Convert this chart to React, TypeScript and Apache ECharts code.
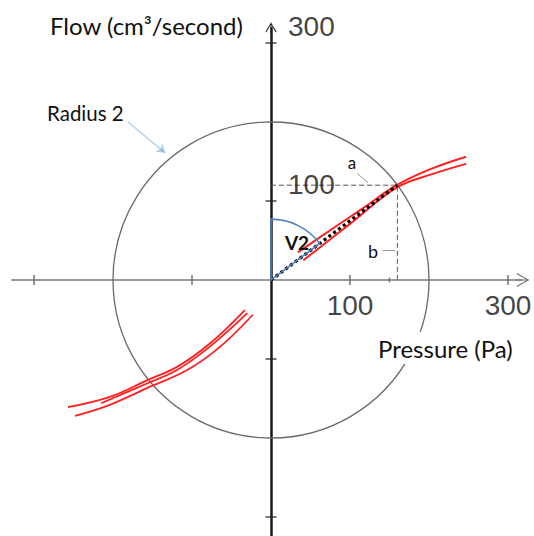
import React, { useEffect, useRef } from "react";
import * as echarts from "echarts";

// ---- data (chart units) ----
const xTickValues = [-300, -100, 100, 300];
const yTickValues = [-300, -100, 100, 300];
const xLabelValues = [100, 300];
const yLabelValues = [100, 300];
const minorXTick = [150];
const circleRadius = 200;
const vectorPoint = [160, 120];
const angleMarkerRadius = 77;
const upperCurveA = [[34, 35], [75, 63], [118, 92], [159, 120], [201, 140], [247, 156]];
const upperCurveB = [[41, 25], [100, 71], [159, 117], [204, 134], [247, 147]];
const lowerCurveA = [[-257, -161], [-204, -148], [-157, -127], [-119, -110], [-77, -80], [-33, -38]];
const lowerCurveA2 = [[-215, -156], [-157, -131], [-119, -114], [-77, -84], [-30, -42]];
const lowerCurveB = [[-248, -172], [-204, -158], [-153, -135], [-106, -114], [-65, -85], [-23, -44]];
const radiusArrow = [[-181, 200], [-134, 161]];
const leaderA = [[109, 135], [123, 123]];
const leaderB = [[141, 38], [157, 38]];

const X_MIN = -328, X_MAX = 318, Y_MIN = -324, Y_MAX = 319;

const ARROW = "path://M10,0 L20,17 L18.6,18.2 L10,3.4 L1.4,18.2 L0,17 Z M9.3,0 L10.7,0 L10.7,20 L9.3,20 Z";
const TXT = "Lato";
const NUM = "Liberation Sans";
const RED = "#ff2020";

export default function App() {
  const ref = useRef<HTMLDivElement>(null);
  useEffect(() => {
    if (!ref.current) return;
    const chart = echarts.init(ref.current, null, { renderer: "svg" });
    const lineSeries = (data: number[][], color: string, width: number, type: any = "solid", z = 3) => ({
      type: "line",
      data,
      smooth: 0.4,
      showSymbol: false,
      symbol: "none",
      silent: true,
      z,
      lineStyle: { color, width, type },
    });
    chart.setOption({
      animation: false,
      backgroundColor: "#ffffff",
      grid: { left: 11.88, top: 27.99, width: 510.34, height: 507.97, containLabel: false, outerBoundsMode: "none" },
      xAxis: {
        type: "value",
        min: X_MIN,
        max: X_MAX,
        axisLine: {
          onZero: true,
          lineStyle: { color: "#7a7a7a", width: 1.5 },
          symbol: ["none", ARROW],
          symbolSize: [15, 14],
        },
        axisTick: { show: false },
        splitLine: { show: false },
        axisLabel: { show: false },
      },
      yAxis: {
        type: "value",
        min: Y_MIN,
        max: Y_MAX,
        axisLine: {
          onZero: true,
          lineStyle: { color: "#1a1a1a", width: 2.5 },
          symbol: ["none", ARROW],
          symbolSize: [17, 11],
        },
        axisTick: { show: false },
        splitLine: { show: false },
        axisLabel: { show: false },
      },
      series: [
        {
          type: "custom",
          coordinateSystem: "cartesian2d",
          data: [[0, 0]],
          clip: false,
          silent: true,
          z: 1,
          renderItem: (params: any, api: any) => {
            const c = api.coord([api.value(0), api.value(1)]);
            const r = api.size([circleRadius, 0])[0];
            return {
              type: "circle",
              shape: { cx: c[0], cy: c[1], r },
              style: { fill: "none", stroke: "#6a6a6a", lineWidth: 1.3 },
            };
          },
        },
        lineSeries([[0, vectorPoint[1]], vectorPoint, [vectorPoint[0], 0]], "#555", 1, [5, 3], 2),
        lineSeries(upperCurveA, RED, 2),
        lineSeries(upperCurveB, RED, 2),
        lineSeries(lowerCurveA, RED, 1.8),
        lineSeries(lowerCurveA2, RED, 1.8),
        lineSeries(lowerCurveB, RED, 1.8),
        { ...lineSeries([[0, 0], vectorPoint], "#000", 3.2, [3, 3], 4), smooth: false },
        {
          type: "custom",
          coordinateSystem: "cartesian2d",
          data: [[0, 0]],
          clip: false,
          silent: true,
          z: 5,
          renderItem: (params: any, api: any) => {
            const c = api.coord([api.value(0), api.value(1)]);
            const r = api.size([angleMarkerRadius, 0])[0];
            return {
              type: "sector",
              shape: {
                cx: c[0],
                cy: c[1],
                r0: 0,
                r,
                startAngle: -Math.PI / 2,
                endAngle: -Math.atan2(vectorPoint[1], vectorPoint[0]),
                clockwise: true,
              },
              style: { fill: "none", stroke: "#4f81bd", lineWidth: 1.6 },
            };
          },
        },
        {
          type: "scatter",
          data: xTickValues.map((v) => [v, 0]),
          symbol: "rect",
          symbolSize: [1.5, 10],
          itemStyle: { color: "#555" },
          silent: true,
          z: 6,
        },
        {
          type: "scatter",
          data: minorXTick.map((v) => [v, 0]),
          symbol: "rect",
          symbolSize: [1.5, 5],
          itemStyle: { color: "#555" },
          silent: true,
          z: 6,
        },
        {
          type: "scatter",
          data: yTickValues.map((v) => [0, v]),
          symbol: "rect",
          symbolSize: [11, 1.5],
          itemStyle: { color: "#222" },
          silent: true,
          z: 6,
        },
        // x tick labels
        {
          type: "scatter",
          data: xLabelValues.map((v) => [v, 0]),
          symbolSize: 0,
          silent: true,
          z: 7,
          label: {
            show: true,
            position: "inside",
            offset: [0, 25],
            formatter: (p: any) => String(p.value[0]),
            fontSize: 28,
            fontFamily: NUM,
            color: "#111",
          },
        },
        // y tick labels
        {
          type: "scatter",
          data: yLabelValues.map((v) => [0, v]),
          symbolSize: 0,
          silent: true,
          z: 7,
          label: {
            show: true,
            position: "right",
            distance: 17,
            offset: [0, -16.5],
            formatter: (p: any) => String(p.value[1]),
            fontSize: 28,
            fontFamily: NUM,
            color: "#111",
          },
        },
        {
          type: "lines",
          coordinateSystem: "cartesian2d",
          silent: true,
          z: 6,
          data: [{ coords: radiusArrow }],
          symbol: ["none", "arrow"],
          symbolSize: 8,
          lineStyle: { color: "#5b9bd5", width: 1.3, curveness: 0 },
        },
        {
          type: "lines",
          coordinateSystem: "cartesian2d",
          silent: true,
          z: 6,
          data: [{ coords: leaderA }, { coords: leaderB }],
          symbol: "none",
          lineStyle: { color: "#333", width: 1, curveness: 0 },
        },
      ],
      graphic: [
        { type: "text", z: 10, style: { x: 50, y: 25, text: "Flow (cm³/second)", fontSize: 24, fontFamily: TXT, fill: "#111", verticalAlign: "middle", align: "left" } },
        { type: "text", z: 10, style: { x: 47, y: 113, text: "Radius 2", fontSize: 20.5, fontFamily: TXT, fill: "#111", verticalAlign: "middle", align: "left" } },
        { type: "text", z: 10, style: { x: 375, y: 348, text: "Pressure (Pa)", fontSize: 24, fontFamily: TXT, fill: "#111", verticalAlign: "middle", align: "left", backgroundColor: "#fff", padding: [4, 3] } },
        { type: "text", z: 10, style: { x: 297, y: 242, text: "V2", fontSize: 19, fontWeight: "bold", fontFamily: TXT, fill: "#111", verticalAlign: "middle", align: "center" } },
        { type: "text", z: 10, style: { x: 352, y: 162, text: "a", fontSize: 17, fontFamily: TXT, fill: "#111", verticalAlign: "middle", align: "center" } },
        { type: "text", z: 10, style: { x: 373, y: 251, text: "b", fontSize: 18, fontFamily: TXT, fill: "#111", verticalAlign: "middle", align: "center" } },
      ],
    });
    return () => chart.dispose();
  }, []);
  return <div ref={ref} style={{ position: "absolute", left: 0, top: 0, width: 534, height: 536 }} />;
}
